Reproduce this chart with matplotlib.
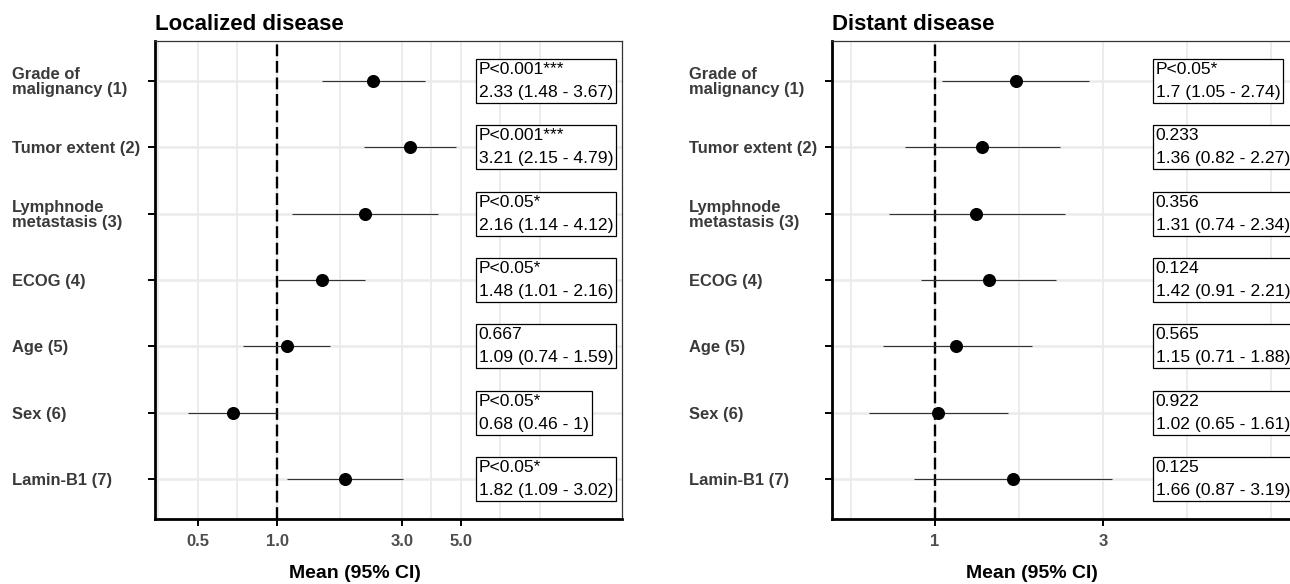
import numpy as np
import matplotlib
matplotlib.use("Agg")
import matplotlib.pyplot as plt
from matplotlib import font_manager
from matplotlib.transforms import blended_transform_factory

# ------------------------------
# datos
# ------------------------------
variables = ["Grade of\nmalignancy (1)", "Tumor extent (2)", "Lymphnode\nmetastasis (3)",
             "ECOG (4)", "Age (5)", "Sex (6)", "Lamin-B1 (7)"]

loc_mean = [2.33, 3.21, 2.16, 1.48, 1.09, 0.68, 1.82]
loc_low = [1.48, 2.15, 1.14, 1.01, 0.74, 0.46, 1.09]
loc_high = [3.67, 4.79, 4.12, 2.16, 1.59, 1.00, 3.02]
loc_p = ["P<0.001***", "P<0.001***", "P<0.05*", "P<0.05*", "0.667", "P<0.05*", "P<0.05*"]

dist_mean = [1.70, 1.36, 1.31, 1.42, 1.15, 1.02, 1.66]
dist_low = [1.05, 0.82, 0.74, 0.91, 0.71, 0.65, 0.87]
dist_high = [2.74, 2.27, 2.34, 2.21, 1.88, 1.61, 3.19]
dist_p = ["P<0.05*", "0.233", "0.356", "0.124", "0.565", "0.922", "0.125"]

loc_ticks = [0.5, 1, 3, 5]
loc_ticklabels = ["0.5", "1.0", "3.0", "5.0"]
dist_ticks = [1, 3]
dist_ticklabels = ["1", "3"]

# ------------------------------
# fuentes
# ------------------------------
nombres = {f.name for f in font_manager.fontManager.ttflist}
FUENTE = "Liberation Sans" if "Liberation Sans" in nombres else "DejaVu Sans"
if "Liberation Sans Narrow" in nombres:
    FUENTE_CAJA, TAM_CAJA = "Liberation Sans Narrow", 15.2
else:
    FUENTE_CAJA, TAM_CAJA = FUENTE, 12.6
plt.rcParams["font.family"] = [FUENTE, "DejaVu Sans"]

GRIS = "#EBEBEB"


def minor_breaks(ticks, lims):
    # como ggplot: puntos medios en escala log y un paso extra a cada lado
    b = list(np.log(ticks))
    bd = b[1] - b[0]
    lo, hi = np.log(lims)
    if lo < b[0]:
        b = [b[0] - bd] + b
    if hi > b[-1]:
        b = b + [b[-1] + bd]
    mids = [(b[i] + b[i + 1]) / 2 for i in range(len(b) - 1)]
    return np.exp(b + mids)


def panel(ax, titulo, media, bajo, alto, pvals, ticks, ticklabels, lims):
    y = np.arange(len(variables), 0, -1)

    ax.set_xscale("log")
    ax.set_xlim(*lims)
    ax.set_ylim(0.4, len(variables) + 0.6)

    for g in minor_breaks(ticks, lims):
        ax.axvline(g, color=GRIS, lw=1.3, zorder=0)
    for yy in y:
        ax.axhline(yy, color=GRIS, lw=1.8, zorder=0)

    ax.axvline(1, color="black", lw=1.7, ls=(0, (5, 2)), zorder=1)

    media = np.array(media)
    ax.hlines(y, bajo, alto, color="#333333", lw=0.8, zorder=2)
    ax.plot(media, y, "o", color="black", ms=8.4, zorder=3)

    tr = blended_transform_factory(ax.transAxes, ax.transData)
    for yy, p, m, lo, hi in zip(y, pvals, media, bajo, alto):
        txt = f"{p}\n{m:g} ({lo:g} - {hi:g})"
        ax.text(0.693, yy, txt, transform=tr, ha="left", va="center",
                family=[FUENTE_CAJA, "DejaVu Sans"], fontsize=TAM_CAJA,
                linespacing=1.68, zorder=4,
                bbox=dict(boxstyle="square,pad=0.17", fc="white", ec="black", lw=0.9))

    ax.set_xticks(ticks)
    ax.set_xticklabels(ticklabels)
    ax.xaxis.set_minor_locator(matplotlib.ticker.NullLocator())
    ax.set_yticks(y)
    ax.set_yticklabels(variables)
    for lab in ax.get_yticklabels():
        lab.set_horizontalalignment("left")
        lab.set_multialignment("left")
        lab.set_linespacing(0.95)

    ax.tick_params(axis="y", length=5, width=1.4, color="black", pad=98,
                   labelsize=11.9, labelcolor="#3A3A3A")
    ax.tick_params(axis="x", length=5, width=1.4, color="black", pad=6,
                   labelsize=12, labelcolor="#4D4D4D")
    for lab in ax.get_yticklabels() + ax.get_xticklabels():
        lab.set_fontweight("bold")

    for lado in ["left", "bottom"]:
        ax.spines[lado].set_linewidth(2.0)
        ax.spines[lado].set_color("black")
    for lado in ["top", "right"]:
        ax.spines[lado].set_linewidth(0.9)
        ax.spines[lado].set_color("#333333")

    ax.set_title(titulo, loc="left", fontsize=16, fontweight="bold", pad=8)
    ax.set_xlabel("Mean (95% CI)", fontsize=14, fontweight="bold")
    ax.xaxis.label.set_verticalalignment("center")
    ax.xaxis.set_label_coords(0.428, -0.115)


fig = plt.figure(figsize=(12.9, 5.84), dpi=100)
ax1 = fig.add_axes([155 / 1290, 65 / 584, 467 / 1290, 478 / 584])
ax2 = fig.add_axes([832 / 1290, 65 / 584, 467 / 1290, 478 / 584])

panel(ax1, "Localized disease", loc_mean, loc_low, loc_high, loc_p,
      loc_ticks, loc_ticklabels, (0.343, 20.6))
panel(ax2, "Distant disease", dist_mean, dist_low, dist_high, dist_p,
      dist_ticks, dist_ticklabels, (0.510, 10.8))

fig.savefig("out.png", dpi=100)
plt.close(fig)
